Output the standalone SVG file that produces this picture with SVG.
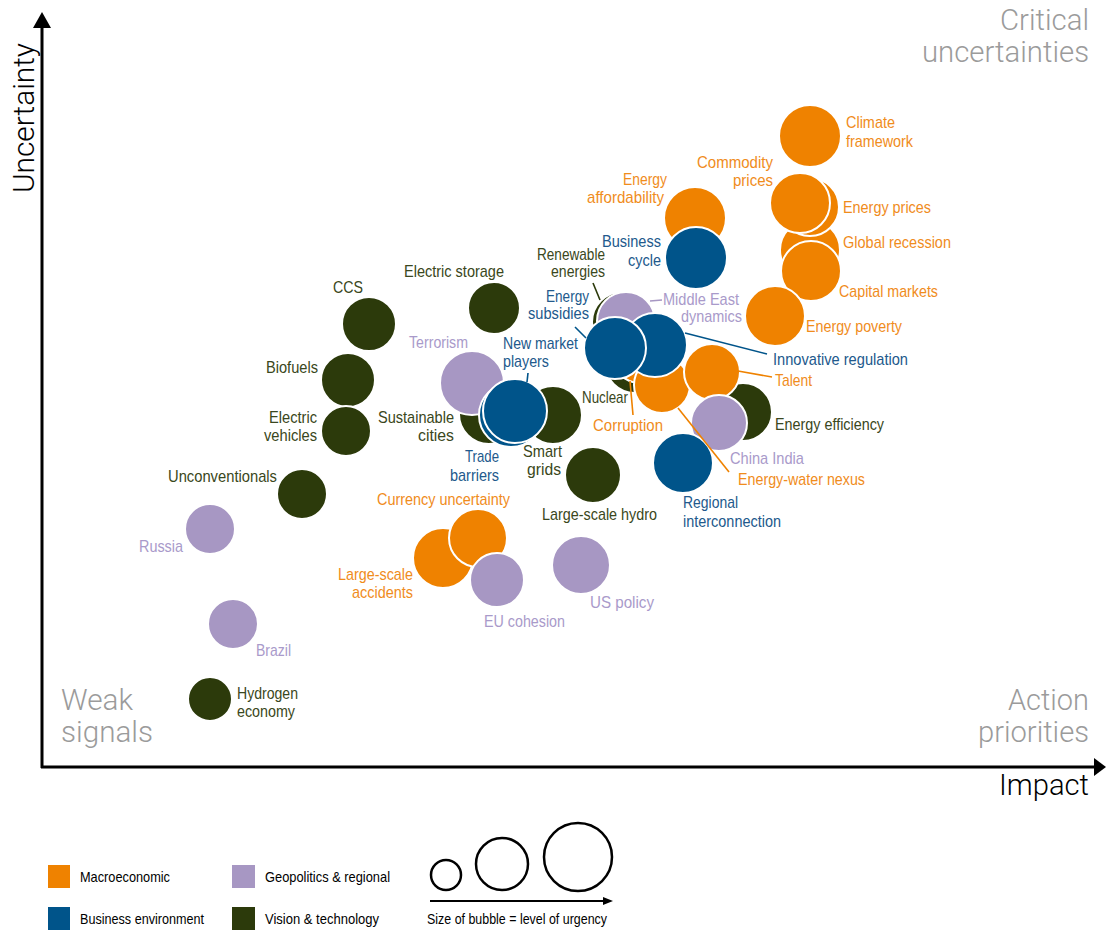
<svg xmlns="http://www.w3.org/2000/svg" width="1106" height="930" viewBox="0 0 1106 930">
<style>
.bub{stroke:#fff;stroke-width:2}
.o{fill:#EF8200}.b{fill:#00548A}.p{fill:#A797C3}.g{fill:#2C3A0B}
text{font-family:"Liberation Sans",Arial,sans-serif;font-size:17px}
.to{fill:#F08C1C}.tb{fill:#22598C}.tp{fill:#A99ACA}.tg{fill:#3A4720}
.e{text-anchor:end}.m{text-anchor:middle}
.corner{font-family:"Helvetica Neue",Roboto,"Liberation Sans",sans-serif;font-weight:300;font-size:29px;fill:#9B9B9B}
.axl{font-family:"Helvetica Neue",Roboto,"Liberation Sans",sans-serif;font-weight:300;font-size:29px;fill:#000}
.leg{font-size:15px;fill:#000}
.ln{stroke-width:1.6;fill:none}
</style>
<g id="axes">
<line x1="42" y1="26" x2="42" y2="768" stroke="#000" stroke-width="3"/>
<polygon points="42,12 33,28 51,28" fill="#000"/>
<line x1="41" y1="767" x2="1096" y2="767" stroke="#000" stroke-width="3"/>
<polygon points="1106,767 1094,758 1094,776" fill="#000"/>
<text class="axl m" transform="translate(34,118) rotate(-90)" textLength="150" lengthAdjust="spacingAndGlyphs">Uncertainty</text>
<text class="axl e" x="1089" y="795" textLength="90" lengthAdjust="spacingAndGlyphs">Impact</text>
<text class="corner e" x="1089" y="30" textLength="89" lengthAdjust="spacingAndGlyphs">Critical</text>
<text class="corner e" x="1089" y="62" textLength="167" lengthAdjust="spacingAndGlyphs">uncertainties</text>
<text class="corner" x="61" y="710" textLength="72" lengthAdjust="spacingAndGlyphs">Weak</text>
<text class="corner" x="61" y="742" textLength="92" lengthAdjust="spacingAndGlyphs">signals</text>
<text class="corner e" x="1089" y="710" textLength="81" lengthAdjust="spacingAndGlyphs">Action</text>
<text class="corner e" x="1089" y="742" textLength="111" lengthAdjust="spacingAndGlyphs">priorities</text>
</g>
<g id="bubbles">
<g id="ccs"><circle class="bub g" cx="369" cy="324" r="27"/><text class="tg" x="333" y="293" textLength="30" lengthAdjust="spacingAndGlyphs">CCS</text></g>
<g id="biofuels"><circle class="bub g" cx="348" cy="380" r="27"/><text class="tg e" x="318" y="373" textLength="52" lengthAdjust="spacingAndGlyphs">Biofuels</text></g>
<g id="electric-vehicles"><circle class="bub g" cx="346" cy="431" r="25"/><text class="tg e" x="317" y="423" textLength="48" lengthAdjust="spacingAndGlyphs">Electric</text><text class="tg e" x="317" y="441" textLength="53" lengthAdjust="spacingAndGlyphs">vehicles</text></g>
<g id="unconventionals"><circle class="bub g" cx="302" cy="494" r="25"/><text class="tg e" x="277" y="482" textLength="109" lengthAdjust="spacingAndGlyphs">Unconventionals</text></g>
<g id="electric-storage"><circle class="bub g" cx="494" cy="308" r="26"/><text class="tg" x="404" y="277" textLength="100" lengthAdjust="spacingAndGlyphs">Electric storage</text></g>
<g id="hydrogen"><circle class="bub g" cx="210" cy="699" r="22"/><text class="tg" x="237" y="699" style="font-size:16px" textLength="61" lengthAdjust="spacingAndGlyphs">Hydrogen</text><text class="tg" x="237" y="717" style="font-size:16px" textLength="58" lengthAdjust="spacingAndGlyphs">economy</text></g>
<g id="russia"><circle class="bub p" cx="210" cy="529" r="25"/><text class="tp e" x="183" y="552" textLength="44" lengthAdjust="spacingAndGlyphs">Russia</text></g>
<g id="brazil"><circle class="bub p" cx="233" cy="624" r="25"/><text class="tp" x="256" y="656" textLength="35" lengthAdjust="spacingAndGlyphs">Brazil</text></g>
<g id="large-scale-hydro"><circle class="bub g" cx="593" cy="475" r="28"/><text class="tg" x="542" y="520" textLength="115" lengthAdjust="spacingAndGlyphs">Large-scale hydro</text></g>
<g id="sustainable-cities"><circle class="bub g" cx="489" cy="414" r="30"/><text class="tg e" x="454" y="423" textLength="76" lengthAdjust="spacingAndGlyphs">Sustainable</text><text class="tg e" x="454" y="441" textLength="36" lengthAdjust="spacingAndGlyphs">cities</text></g>
<g id="terrorism"><circle class="bub p" cx="472" cy="383" r="32"/><text class="tp" x="409" y="348" textLength="59" lengthAdjust="spacingAndGlyphs">Terrorism</text></g>
<g id="smart-grids"><circle class="bub g" cx="553" cy="415" r="29"/><text class="tg e" x="562" y="457" textLength="39" lengthAdjust="spacingAndGlyphs">Smart</text><text class="tg e" x="561" y="475" textLength="34" lengthAdjust="spacingAndGlyphs">grids</text></g>
<g id="trade-barriers"><circle class="bub b" cx="511" cy="415" r="32"/><text class="tb e" x="499" y="462" textLength="34" lengthAdjust="spacingAndGlyphs">Trade</text><text class="tb e" x="499" y="481" textLength="49" lengthAdjust="spacingAndGlyphs">barriers</text></g>
<g id="new-market-players"><circle class="bub b" cx="515" cy="411" r="32"/><text class="tb" x="503" y="349" textLength="75" lengthAdjust="spacingAndGlyphs">New market</text><text class="tb" x="503" y="367" textLength="46" lengthAdjust="spacingAndGlyphs">players</text></g>
<g id="large-scale-accidents"><circle class="bub o" cx="443" cy="558" r="30"/><text class="to e" x="413" y="580" textLength="75" lengthAdjust="spacingAndGlyphs">Large-scale</text><text class="to e" x="413" y="598" textLength="61" lengthAdjust="spacingAndGlyphs">accidents</text></g>
<g id="currency-uncertainty"><circle class="bub o" cx="478" cy="538" r="29"/><text class="to" x="377" y="505" textLength="133" lengthAdjust="spacingAndGlyphs">Currency uncertainty</text></g>
<g id="eu-cohesion"><circle class="bub p" cx="497" cy="580" r="27"/><text class="tp" x="484" y="627" textLength="81" lengthAdjust="spacingAndGlyphs">EU cohesion</text></g>
<g id="us-policy"><circle class="bub p" cx="581" cy="565" r="29"/><text class="tp" x="590" y="608" textLength="64" lengthAdjust="spacingAndGlyphs">US policy</text></g>
<g id="climate-framework"><circle class="bub o" cx="810" cy="136" r="31"/><text class="to" x="846" y="128" textLength="49" lengthAdjust="spacingAndGlyphs">Climate</text><text class="to" x="846" y="147" textLength="67" lengthAdjust="spacingAndGlyphs">framework</text></g>
<g id="global-recession"><circle class="bub o" cx="810" cy="250" r="30"/><text class="to" x="843" y="248" textLength="108" lengthAdjust="spacingAndGlyphs">Global recession</text></g>
<g id="capital-markets"><circle class="bub o" cx="811" cy="271" r="30"/><text class="to" x="839" y="297" textLength="99" lengthAdjust="spacingAndGlyphs">Capital markets</text></g>
<g id="energy-prices"><circle class="bub o" cx="810" cy="207" r="29"/><text class="to" x="843" y="213" textLength="88" lengthAdjust="spacingAndGlyphs">Energy prices</text></g>
<g id="commodity-prices"><circle class="bub o" cx="800" cy="203" r="30"/><text class="to e" x="773" y="168" textLength="76" lengthAdjust="spacingAndGlyphs">Commodity</text><text class="to e" x="773" y="186" textLength="40" lengthAdjust="spacingAndGlyphs">prices</text></g>
<g id="energy-poverty"><circle class="bub o" cx="775" cy="316" r="30"/><text class="to" x="806" y="332" textLength="96" lengthAdjust="spacingAndGlyphs">Energy poverty</text></g>
<g id="energy-affordability"><circle class="bub o" cx="695" cy="218" r="31"/><text class="to e" x="667" y="185" textLength="44" lengthAdjust="spacingAndGlyphs">Energy</text><text class="to e" x="664" y="203" textLength="77" lengthAdjust="spacingAndGlyphs">affordability</text></g>
<g id="business-cycle"><circle class="bub b" cx="696" cy="258" r="31"/><text class="tb e" x="661" y="247" textLength="59" lengthAdjust="spacingAndGlyphs">Business</text><text class="tb e" x="661" y="266" textLength="33" lengthAdjust="spacingAndGlyphs">cycle</text></g>
<g id="renewable-energies"><circle class="bub g" cx="622" cy="322" r="30"/><text class="tg e" x="605" y="260" textLength="68" lengthAdjust="spacingAndGlyphs">Renewable</text><text class="tg e" x="605" y="277" textLength="54" lengthAdjust="spacingAndGlyphs">energies</text></g>
<g id="nuclear"><circle class="bub g" cx="635" cy="363" r="30"/><text class="tg e" x="628" y="403" textLength="46" lengthAdjust="spacingAndGlyphs">Nuclear</text></g>
<g id="middle-east"><circle class="bub p" cx="626" cy="321" r="29"/><text class="tp" x="663" y="305" textLength="76" lengthAdjust="spacingAndGlyphs">Middle East</text><text class="tp" x="681" y="322" textLength="61" lengthAdjust="spacingAndGlyphs">dynamics</text></g>
<g id="energy-efficiency"><circle class="bub g" cx="743" cy="412" r="29"/><text class="tg" x="775" y="430" textLength="109" lengthAdjust="spacingAndGlyphs">Energy efficiency</text></g>
<g id="corruption"><circle class="bub o" cx="640" cy="355" r="28"/><text class="to" x="593" y="431" textLength="70" lengthAdjust="spacingAndGlyphs">Corruption</text></g>
<g id="energy-water-nexus"><circle class="bub o" cx="662" cy="385" r="28"/><text class="to" x="738" y="485" textLength="127" lengthAdjust="spacingAndGlyphs">Energy-water nexus</text></g>
<g id="talent"><circle class="bub o" cx="712" cy="372" r="28"/><text class="to" x="775" y="386" textLength="37" lengthAdjust="spacingAndGlyphs">Talent</text></g>
<g id="china-india"><circle class="bub p" cx="719" cy="423" r="28"/><text class="tp" x="730" y="464" textLength="74" lengthAdjust="spacingAndGlyphs">China India</text></g>
<g id="regional-interconnection"><circle class="bub b" cx="683" cy="463" r="30"/><text class="tb" x="683" y="508" textLength="55" lengthAdjust="spacingAndGlyphs">Regional</text><text class="tb" x="683" y="527" textLength="98" lengthAdjust="spacingAndGlyphs">interconnection</text></g>
<g id="innovative-regulation"><circle class="bub b" cx="655" cy="345" r="32"/><text class="tb" x="773" y="365" textLength="135" lengthAdjust="spacingAndGlyphs">Innovative regulation</text></g>
<g id="energy-subsidies"><circle class="bub b" cx="615" cy="348" r="31"/><text class="tb e" x="589" y="302" textLength="43" lengthAdjust="spacingAndGlyphs">Energy</text><text class="tb e" x="589" y="319" textLength="61" lengthAdjust="spacingAndGlyphs">subsidies</text></g>
</g>
<g id="connectors">
<line class="ln" stroke="#2C3A0B" x1="593" y1="283" x2="600" y2="300"/>
<line class="ln" stroke="#A797C3" x1="650" y1="301" x2="662" y2="300"/>
<line class="ln" stroke="#00548A" x1="575" y1="327" x2="586" y2="338"/>
<line class="ln" stroke="#00548A" x1="685" y1="333" x2="767" y2="354"/>
<line class="ln" stroke="#00548A" x1="528" y1="373" x2="527" y2="382"/>
<line class="ln" stroke="#EF8200" x1="738" y1="371" x2="772" y2="377"/>
<line class="ln" stroke="#EF8200" x1="630" y1="381" x2="633" y2="415"/>
<line class="ln" stroke="#EF8200" x1="678" y1="408" x2="729" y2="472"/>
</g>
<g id="legend">
<rect x="48" y="865" width="22" height="23" class="o"/>
<text class="leg" x="80" y="882" textLength="90" lengthAdjust="spacingAndGlyphs">Macroeconomic</text>
<rect x="232" y="865" width="23" height="23" class="p"/>
<text class="leg" x="265" y="882" textLength="125" lengthAdjust="spacingAndGlyphs">Geopolitics &amp; regional</text>
<rect x="48" y="907" width="22" height="23" class="b"/>
<text class="leg" x="80" y="924" textLength="124" lengthAdjust="spacingAndGlyphs">Business environment</text>
<rect x="232" y="907" width="23" height="23" class="g"/>
<text class="leg" x="265" y="924" textLength="114" lengthAdjust="spacingAndGlyphs">Vision &amp; technology</text>
<circle cx="446" cy="875" r="15" fill="none" stroke="#000" stroke-width="2.5"/>
<circle cx="502" cy="864" r="26" fill="none" stroke="#000" stroke-width="2.5"/>
<circle cx="578" cy="857" r="34" fill="none" stroke="#000" stroke-width="2.5"/>
<line x1="430" y1="901" x2="605" y2="901" stroke="#000" stroke-width="2"/>
<polygon points="613,901 603,897 603,905" fill="#000"/>
<text class="leg" x="427" y="924" textLength="180" lengthAdjust="spacingAndGlyphs">Size of bubble = level of urgency</text>
</g>
</svg>
